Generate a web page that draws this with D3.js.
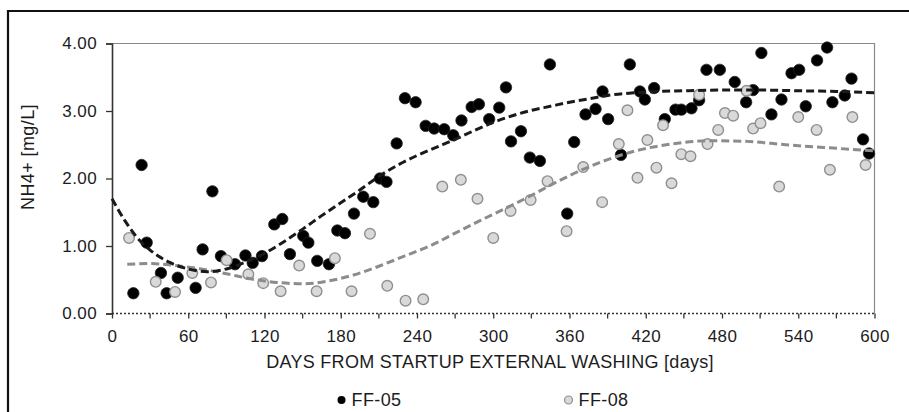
<!DOCTYPE html>
<html>
<head>
<meta charset="utf-8">
<script src="https://cdn.jsdelivr.net/npm/d3@7/dist/d3.min.js"></script>
<style>
  html, body { margin: 0; padding: 0; background: #fff; }
  svg { display: block; }
  text { font-family: "Liberation Sans", Arial, sans-serif; fill: #1c1c1c; }
</style>
</head>
<body>
<svg id="chart" width="909" height="412"></svg>
<script>
// NH4+ concentration by days since start of external washing
const ff05Days = [16.8, 23.3, 27.3, 38.5, 43, 51.7, 65.8, 71.3, 79, 85.7, 96.8, 105, 110.7, 118, 127.7, 134, 140, 150.5, 154.5, 161.5, 170.7, 177.3, 183.3, 190.4, 197.7, 205.6, 210.8, 216, 224, 230.5, 238.9, 246.8, 253.5, 261.4, 268.5, 275, 283, 288.7, 296.8, 304.7, 310, 314, 321.8, 328.8, 336.7, 344.6, 358.2, 363.7, 372.6, 380.5, 386, 390.4, 400.5, 407.5, 415.4, 419.3, 426.6, 435, 443.4, 448, 456, 462, 467.8, 478.3, 490, 499, 504.5, 511, 518.9, 526.8, 534.7, 540.7, 545.9, 554.8, 562.7, 566.9, 576.6, 581.9, 591, 595.7];
const ff05Values = [0.30, 2.20, 1.05, 0.60, 0.30, 0.53, 0.38, 0.95, 1.81, 0.85, 0.73, 0.86, 0.75, 0.85, 1.32, 1.40, 0.88, 1.15, 1.05, 0.78, 0.73, 1.23, 1.19, 1.48, 1.73, 1.65, 2.00, 1.95, 2.52, 3.19, 3.13, 2.78, 2.74, 2.73, 2.64, 2.86, 3.06, 3.10, 2.88, 3.05, 3.35, 2.55, 2.70, 2.31, 2.26, 3.69, 1.48, 2.54, 2.95, 3.03, 3.29, 2.88, 2.35, 3.69, 3.29, 3.17, 3.34, 2.88, 3.02, 3.02, 3.04, 3.16, 3.61, 3.61, 3.43, 3.13, 3.31, 3.86, 2.95, 3.17, 3.56, 3.61, 3.07, 3.75, 3.94, 3.13, 3.23, 3.48, 2.58, 2.37];

const ff08Days = [13.4, 34.4, 49.6, 63.2, 77.9, 90.2, 107.3, 119, 132.7, 147.3, 161, 175.4, 188.5, 203, 216.6, 231, 244.9, 259.9, 274.5, 287.6, 300, 313.6, 329.4, 342.7, 357.7, 370.8, 385.7, 398.8, 405.6, 413.5, 421.3, 428.4, 433.6, 440.3, 448, 455.2, 462, 468.6, 477, 482.3, 488.8, 499.3, 504.5, 510.3, 525, 540, 554.4, 564.9, 582.6, 593];
const ff08Values = [1.12, 0.47, 0.32, 0.60, 0.46, 0.79, 0.58, 0.45, 0.33, 0.71, 0.33, 0.82, 0.33, 1.18, 0.41, 0.19, 0.21, 1.88, 1.98, 1.70, 1.12, 1.52, 1.68, 1.96, 1.22, 2.17, 1.65, 2.51, 3.01, 2.01, 2.57, 2.16, 2.79, 1.93, 2.36, 2.33, 3.24, 2.51, 2.72, 2.97, 2.93, 3.30, 2.74, 2.82, 1.88, 2.91, 2.72, 2.13, 2.91, 2.20];

// Trend lines (polynomial fits), sampled along the day axis
const trend05Days = [0, 10, 20, 30, 45, 60, 75, 90, 105, 120, 135, 150, 165, 180, 195, 210, 225, 240, 255, 270, 285, 300, 315, 330, 345, 360, 375, 390, 420, 450, 480, 510, 540, 570, 600];
const trend05Values = [1.70, 1.38, 1.12, 0.94, 0.76, 0.66, 0.62, 0.66, 0.76, 0.89, 1.06, 1.25, 1.45, 1.64, 1.83, 2.03, 2.20, 2.34, 2.46, 2.58, 2.71, 2.83, 2.93, 3.01, 3.07, 3.13, 3.18, 3.23, 3.28, 3.30, 3.31, 3.31, 3.30, 3.29, 3.27];
const trend08Days = [12, 30, 50, 70, 90, 110, 130, 150, 170, 190, 210, 230, 250, 270, 290, 310, 330, 350, 370, 390, 410, 440, 470, 500, 530, 560, 600];
const trend08Values = [0.73, 0.74, 0.71, 0.66, 0.59, 0.51, 0.46, 0.44, 0.48, 0.57, 0.70, 0.85, 1.00, 1.19, 1.38, 1.56, 1.75, 1.95, 2.13, 2.28, 2.40, 2.51, 2.56, 2.55, 2.50, 2.46, 2.41];

const xTicks = [0, 60, 120, 180, 240, 300, 360, 420, 480, 540, 600];
const xMinorTicks = [30, 90, 150, 210, 270, 330, 390, 450, 510, 570];
const yTicks = [0, 1, 2, 3, 4];
const seriesNames = ["FF-05", "FF-08"];

const svg = d3.select("#chart");
const plotL = 112, plotR = 874.5, plotT = 43.5, plotB = 313.5;

const x = d3.scaleLinear().domain([0, 600]).range([plotL, plotR]);
const y = d3.scaleLinear().domain([0, 4]).range([plotB, plotT]);

// outer chart frame
svg.append("path")
  .attr("d", `M8,412 L8,11 L909,11`)
  .attr("fill", "none").attr("stroke", "#111").attr("stroke-width", 2.2);

// plot frame (top and right)
svg.append("path")
  .attr("d", `M${plotL},${plotT} L${plotR},${plotT} L${plotR},${plotB}`)
  .attr("fill", "none").attr("stroke", "#8a8a8a").attr("stroke-width", 1.2);

// y axis
const yAxis = svg.append("g")
  .attr("transform", `translate(${plotL},0)`)
  .call(d3.axisLeft(y).tickValues(yTicks).tickFormat(d3.format(".2f")).tickSize(6).tickPadding(9));
yAxis.select(".domain").attr("stroke", "#333").attr("stroke-width", 1.6);
yAxis.selectAll(".tick line").attr("stroke", "#333").attr("stroke-width", 1.3);
yAxis.selectAll("text").style("font-size", "17px").style("letter-spacing", "0.4px").attr("fill", "#1c1c1c");

// x axis
const xAxis = svg.append("g")
  .attr("transform", `translate(0,${plotB})`)
  .call(d3.axisBottom(x).tickValues(xTicks).tickFormat(d3.format("d")).tickSize(5).tickPadding(11));
xAxis.select(".domain").remove();
xAxis.selectAll(".tick line").attr("stroke", "#333").attr("stroke-width", 1.3);
xAxis.selectAll("text").style("font-size", "17px").style("letter-spacing", "0.4px").attr("fill", "#1c1c1c");
svg.append("g").selectAll("line").data(xMinorTicks).join("line")
  .attr("x1", d => x(d)).attr("x2", d => x(d))
  .attr("y1", plotB).attr("y2", plotB + 5)
  .attr("stroke", "#333").attr("stroke-width", 1.3);
svg.append("line")
  .attr("x1", plotL).attr("x2", plotR).attr("y1", plotB).attr("y2", plotB)
  .attr("stroke", "#333").attr("stroke-width", 1.6).attr("stroke-dasharray", "2,2");

// axis titles
svg.append("text")
  .attr("x", 490).attr("y", 368)
  .attr("text-anchor", "middle").style("font-size", "18px").style("letter-spacing", "0.3px")
  .text("DAYS FROM STARTUP EXTERNAL WASHING [days]");
svg.append("text")
  .attr("transform", "translate(28,157) rotate(-90)")
  .attr("text-anchor", "middle").attr("dominant-baseline", "central")
  .style("font-size", "18px").style("letter-spacing", "0.4px")
  .text("NH4+ [mg/L]");

// data points
const g05 = svg.append("g");
g05.selectAll("circle").data(d3.range(ff05Days.length)).join("circle")
  .attr("cx", i => x(ff05Days[i])).attr("cy", i => y(ff05Values[i]))
  .attr("r", 5.7).attr("fill", "#000").attr("stroke", "#222").attr("stroke-width", 0.8);

const g08 = svg.append("g");
g08.selectAll("circle").data(d3.range(ff08Days.length)).join("circle")
  .attr("cx", i => x(ff08Days[i])).attr("cy", i => y(ff08Values[i]))
  .attr("r", 5.3).attr("fill", "#d9d9d9").attr("stroke", "#8f8f8f").attr("stroke-width", 1.4);

// trend lines
const line = d3.line().x(d => x(d[0])).y(d => y(d[1])).curve(d3.curveMonotoneX);
svg.append("path")
  .datum(trend08Days.map((d, i) => [d, trend08Values[i]]))
  .attr("d", line).attr("fill", "none")
  .attr("stroke", "#8c8c8c").attr("stroke-width", 3).attr("stroke-dasharray", "8,4");
svg.append("path")
  .datum(trend05Days.map((d, i) => [d, trend05Values[i]]))
  .attr("d", line).attr("fill", "none")
  .attr("stroke", "#1a1a1a").attr("stroke-width", 3).attr("stroke-dasharray", "8,4");

// legend
const legendX = [341.5, 568.5];
const legend = svg.append("g");
legend.append("circle").attr("cx", legendX[0]).attr("cy", 400).attr("r", 4).attr("fill", "#000");
legend.append("circle").attr("cx", legendX[1]).attr("cy", 400).attr("r", 4)
  .attr("fill", "#d9d9d9").attr("stroke", "#8f8f8f").attr("stroke-width", 1.2);
legend.selectAll("text").data(seriesNames).join("text")
  .attr("x", (d, i) => legendX[i] + 10).attr("y", 400)
  .attr("dominant-baseline", "central").style("font-size", "18px").style("letter-spacing", "0.4px")
  .text(d => d);
</script>
</body>
</html>
